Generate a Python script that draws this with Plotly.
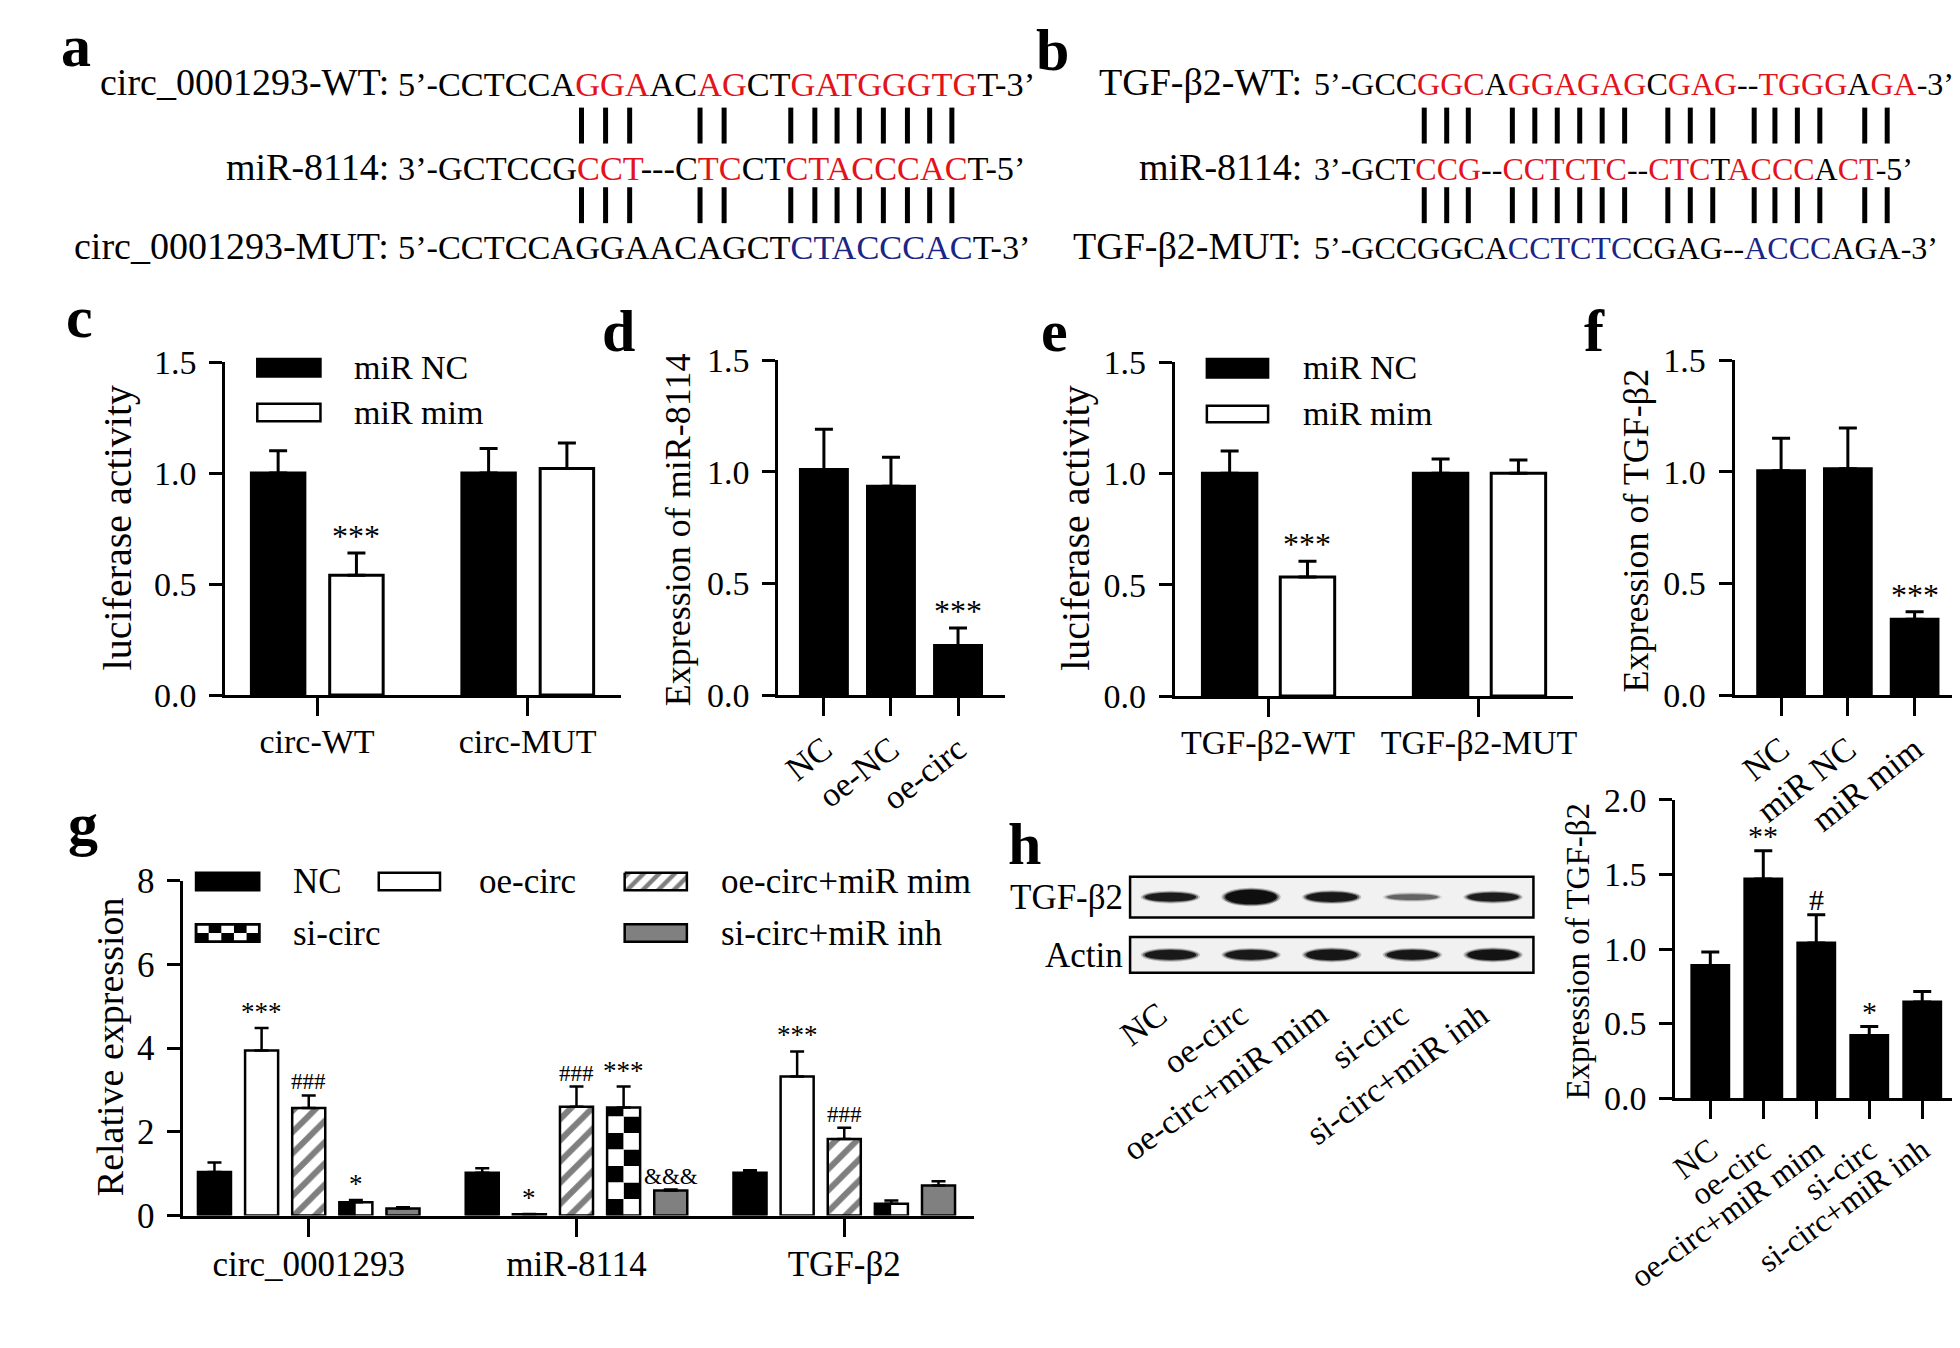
import plotly.graph_objects as go

W, H = 1960, 1348
FONT = "Liberation Serif, 'Times New Roman', Times, serif"
RED = "#E3121B"
BLUE = "#1B2585"
GRAY = "#808080"

# ---------------- data ----------------
# panel a : sequences (segment, colour key)
a_row_labels = ["circ_0001293-WT:", "miR-8114:", "circ_0001293-MUT:"]
a_wt = [("5’-CCTCCA", "k"), ("GGA", "r"), ("AC", "k"), ("AG", "r"), ("CT", "k"),
        ("GATGGGTG", "r"), ("T-3’", "k")]
a_mir = [("3’-GCTCCG", "k"), ("CCT", "r"), ("---C", "k"), ("TC", "r"), ("CT", "k"),
         ("CTACCCAC", "r"), ("T-5’", "k")]
a_mut = [("5’-CCTCCAGGAACAGCT", "k"), ("CTACCCAC", "b"), ("T-3’", "k")]

# panel b
b_row_labels = ["TGF-β2-WT:", "miR-8114:", "TGF-β2-MUT:"]
b_wt = [("5’-GCC", "k"), ("GGC", "r"), ("A", "k"), ("GGAGAG", "r"), ("C", "k"), ("GAG", "r"),
        ("--", "k"), ("TGGG", "r"), ("A", "k"), ("GA", "r"), ("-3’", "k")]
b_mir = [("3’-GCT", "k"), ("CCG", "r"), ("--", "k"), ("CCTCTC", "r"), ("--", "k"), ("CTC", "r"),
         ("T", "k"), ("ACCC", "r"), ("A", "k"), ("CT", "r"), ("-5’", "k")]
b_mut = [("5’-GCCGGCA", "k"), ("CCTCTC", "b"), ("CGAG--", "k"), ("ACCC", "b"), ("AGA-3’", "k")]

# panel c
c_cats = ["circ-WT", "circ-MUT"]
c_nc = [1.00, 1.00]
c_nc_err = [0.10, 0.11]
c_mim = [0.54, 1.02]
c_mim_err = [0.10, 0.115]
c_sig = ["***", ""]

# panel d
d_cats = ["NC", "oe-NC", "oe-circ"]
d_vals = [1.01, 0.935, 0.222]
d_err = [0.18, 0.13, 0.078]
d_sig = ["", "", "***"]

# panel e
e_cats = ["TGF-β2-WT", "TGF-β2-MUT"]
e_nc = [1.00, 1.00]
e_nc_err = [0.10, 0.065]
e_mim = [0.535, 1.00]
e_mim_err = [0.07, 0.06]
e_sig = ["***", ""]

# panel f
f_cats = ["NC", "miR NC", "miR mim"]
f_vals = [1.005, 1.013, 0.34]
f_err = [0.145, 0.183, 0.033]
f_sig = ["", "", "***"]

# panel g
g_cats = ["circ_0001293", "miR-8114", "TGF-β2"]
g_names = ["NC", "oe-circ", "oe-circ+miR mim", "si-circ", "si-circ+miR inh"]
g_nc = [1.04, 1.02, 1.02]
g_nc_err = [0.23, 0.11, 0.06]
g_oe = [3.94, 0.03, 3.32]
g_oe_err = [0.54, 0.01, 0.60]
g_oemim = [2.57, 2.60, 1.83]
g_oemim_err = [0.30, 0.48, 0.27]
g_si = [0.32, 2.58, 0.28]
g_si_err = [0.05, 0.50, 0.08]
g_siinh = [0.17, 0.60, 0.72]
g_siinh_err = [0.03, 0.02, 0.10]
g_sig_oe = ["***", "*", "***"]
g_sig_oemim = ["###", "###", "###"]
g_sig_si = ["*", "***", ""]
g_sig_siinh = ["", "&&&", ""]

# panel h (blot + quantification)
h_cats = ["NC", "oe-circ", "oe-circ+miR mim", "si-circ", "si-circ+miR inh"]
h_vals = [0.89, 1.47, 1.04, 0.42, 0.645]
h_err = [0.09, 0.19, 0.19, 0.06, 0.07]
h_sig = ["", "**", "#", "*", ""]
blot_tgf_thick = [9, 15, 10, 6, 9]
blot_tgf_dark = [0.88, 1.0, 0.9, 0.45, 0.86]
blot_actin_thick = [10, 10, 11, 10, 11]
blot_actin_dark = [0.9, 0.9, 0.92, 0.92, 0.95]

# ---------------- helpers ----------------
TW = {'A': 722, 'C': 667, 'G': 722, 'T': 611, '5': 500, '3': 500, '’': 333, '-': 333}
fig = go.Figure()
ann, shapes = [], []
layout = dict(width=W, height=H, margin=dict(l=0, r=0, t=0, b=0), paper_bgcolor="white",
              plot_bgcolor="rgba(0,0,0,0)", barmode="overlay", showlegend=False)
PX, PY = "x7", "y7"
layout["xaxis7"] = dict(domain=[0, 1], range=[0, W], visible=False, fixedrange=True, anchor="y7")
layout["yaxis7"] = dict(domain=[0, 1], range=[H, 0], visible=False, fixedrange=True, anchor="x7")


def T(x, y, text, size, xanchor="center", yanchor="middle", bold=False, angle=0):
    ann.append(dict(xref=PX, yref=PY, x=x, y=y, text=f"<b>{text}</b>" if bold else text,
                    showarrow=False, xanchor=xanchor, yanchor=yanchor, textangle=angle,
                    borderpad=0, font=dict(family=FONT, size=size, color="black")))


def TB(x, base, text, size, xanchor="center", bold=False):
    T(x, base - 0.34 * size, text, size, xanchor=xanchor, bold=bold)


def seq_html(segs):
    out = ""
    for s, c in segs:
        if c == "k":
            out += s
        else:
            out += f'<span style="color:{RED if c == "r" else BLUE}">{s}</span>'
    return out


def seq_panel(labels, rows, label_right, seq_left, label_fs, seq_fs, baselines, spans):
    for lab, segs, b in zip(labels, rows, baselines):
        TB(label_right, b, lab, label_fs, xanchor="right")
        TB(seq_left, b, seq_html(segs), seq_fs, xanchor="left")
    pos = seq_left
    for s, c in rows[0]:
        for ch in s:
            w = TW[ch] / 1000 * seq_fs
            if c == "r":
                for y0, y1 in spans:
                    shapes.append(dict(type="line", xref=PX, yref=PY, x0=pos + w / 2, x1=pos + w / 2,
                                       y0=y0, y1=y1, line=dict(color="black", width=5)))
            pos += w


def axis_pair(k, x0, x1, ytop, ybot, xrange, cats, yvals, ytext, yrange, xfs, yfs, xangle=0,
              xstand=0):
    sx = "" if k == 1 else str(k)
    common = dict(showline=True, linecolor="black", linewidth=3, ticks="outside", tickwidth=3,
                  tickcolor="black", showgrid=False, zeroline=False, fixedrange=True)
    layout["xaxis" + sx] = dict(common, domain=[x0 / W, x1 / W], range=xrange, anchor="y" + sx,
                                tickmode="array", tickvals=list(range(len(cats))), ticktext=cats,
                                ticklen=18, tickangle=xangle, ticklabelstandoff=xstand,
                                tickfont=dict(family=FONT, size=xfs, color="black"))
    layout["yaxis" + sx] = dict(common, domain=[1 - ybot / H, 1 - ytop / H], range=yrange,
                                anchor="x" + sx, tickmode="array", tickvals=yvals, ticktext=ytext,
                                ticklen=13, ticklabelstandoff=6,
                                tickfont=dict(family=FONT, size=yfs, color="black"))
    return "x" + sx, "y" + sx


def bars(xr, yr, vals, errs, off, width, fill, pattern=None, lw=3, cap=9, thick=3):
    marker = dict(color=fill, line=dict(color="black", width=lw))
    if pattern:
        marker["pattern"] = pattern
    fig.add_trace(go.Bar(x=list(range(len(vals))), y=vals, width=width, offset=off - width / 2,
                         marker=marker, xaxis=xr, yaxis=yr, hoverinfo="skip",
                         error_y=dict(type="data", symmetric=False, array=errs,
                                      arrayminus=[0] * len(vals), color="black",
                                      thickness=thick, width=cap)))


def sig(xr, yr, vals, errs, off, marks, size, shift=0):
    for i, (v, e, m) in enumerate(zip(vals, errs, marks)):
        if m:
            ann.append(dict(xref=xr, yref=yr, x=i + off, y=v + e, text=m, showarrow=False,
                            xanchor="center", yanchor="bottom", yshift=shift, borderpad=0,
                            font=dict(family=FONT, size=size, color="black")))


def ytitle(x, y, text, size):
    T(x, y, text, size, angle=-90)


def box(x0, y0, x1, y1, fill):
    shapes.append(dict(type="rect", xref=PX, yref=PY, x0=x0, x1=x1, y0=y0, y1=y1,
                       fillcolor=fill, line=dict(color="black", width=2.5)))


# ---------------- panels a, b ----------------
base_rows = [70, 157, 238]
spans = [(83, 120), (165, 202)]
seq_panel(a_row_labels, [a_wt, a_mir, a_mut], 341, 348, 38, 34.3, base_rows, spans)
seq_panel(b_row_labels, [b_wt, b_mir, b_mut], 1280, 1290, 38, 32, base_rows, spans)
TB(17, 40, "a", 60, bold=True)
TB(1022, 44, "b", 60, bold=True)

yt15 = [0, 0.5, 1.0, 1.5]
yt15t = ["0.0", "0.5", "1.0", "1.5"]

# ---------------- panel c ----------------
xr, yr = axis_pair(1, 171, 578, 345, 688, [-0.4365, 1.443], c_cats, yt15, yt15t, [0, 1.5], 34, 34,
                   xstand=-4)
bars(xr, yr, c_nc, c_nc_err, -0.185, 0.254, "black")
bars(xr, yr, c_mim, c_mim_err, 0.187, 0.254, "white")
sig(xr, yr, c_mim, c_mim_err, 0.187, c_sig, 32, shift=-2)
ytitle(60, 516, "luciferase activity", 40)
box(204, 342, 269, 360, "black")
box(204, 388, 269, 406, "white")
T(302, 351, "miR NC", 34, xanchor="left")
T(302, 397, "miR mim", 34, xanchor="left")
TB(21, 319, "c", 60, bold=True)

# ---------------- panel d ----------------
xr, yr = axis_pair(2, 740, 973, 343, 688, [-0.681, 2.696], d_cats, yt15, yt15t, [0, 1.5], 34, 34,
                   xangle=-38)
bars(xr, yr, d_vals, d_err, 0, 0.70, "black")
sig(xr, yr, d_vals, d_err, 0, d_sig, 32, shift=-2)
ytitle(637, 518, "Expression of miR-8114", 36)
TB(576, 333, "d", 60, bold=True)

# ---------------- panel e ----------------
xr, yr = axis_pair(3, 1148, 1558, 345, 689, [-0.442, 1.447], e_cats, yt15, yt15t, [0, 1.5], 34, 34,
                   xstand=-4)
bars(xr, yr, e_nc, e_nc_err, -0.182, 0.258, "black")
bars(xr, yr, e_mim, e_mim_err, 0.187, 0.258, "white")
sig(xr, yr, e_mim, e_mim_err, 0.187, e_sig, 32, shift=-2)
ytitle(1045, 516, "luciferase activity", 40)
box(1181, 342, 1244, 361, "black")
box(1181, 390, 1244, 407, "white")
T(1279, 351, "miR NC", 34, xanchor="left")
T(1279, 398, "miR mim", 34, xanchor="left")
TB(1024, 333, "e", 60, bold=True)

# ---------------- panel f ----------------
xr, yr = axis_pair(4, 1724, 1957, 343, 688, [-0.696, 2.696], f_cats, yt15, yt15t, [0, 1.5], 34, 34,
                   xangle=-38)
bars(xr, yr, f_vals, f_err, 0, 0.70, "black")
sig(xr, yr, f_vals, f_err, 0, f_sig, 32, shift=-2)
ytitle(1623, 518, "Expression of TGF-β2", 36)
TB(1580, 333, "f", 60, bold=True)

# ---------------- panel g ----------------
g_top, g_bot = 879, 1224
xr, yr = axis_pair(5, 128, 941, g_top, g_bot, [-0.468, 2.483], g_cats, [0, 2, 4, 6, 8],
                   ["0", "2", "4", "6", "8"], [0, 8], 35, 35, xstand=-3)
gw, gp = 0.1234, 0.176
offs = [(k - 2) * gp for k in range(5)]
bars(xr, yr, g_nc, g_nc_err, offs[0], gw, "black", lw=2.5, cap=7, thick=2.5)
bars(xr, yr, g_oe, g_oe_err, offs[1], gw, "white", lw=2.5, cap=7, thick=2.5)
bars(xr, yr, g_oemim, g_oemim_err, offs[2], gw, "white",
     pattern=dict(shape="/", fgcolor="black", bgcolor="white", size=15, solidity=0.4),
     lw=2.5, cap=7, thick=2.5)
# checkerboard fill for si-circ
cell = 17 / ((g_bot - g_top) / 8)
cb = {"black": dict(x=[], y=[], base=[], off=[]), "white": dict(x=[], y=[], base=[], off=[])}
for i, v in enumerate(g_si):
    k = 0
    while k * cell < v - 1e-9:
        h = min(cell, v - k * cell)
        for col in range(2):
            colr = "black" if (k + col) % 2 == 0 else "white"
            d = cb[colr]
            d["x"].append(i)
            d["y"].append(h)
            d["base"].append(k * cell)
            d["off"].append(offs[3] - gw / 2 + col * gw / 2)
        k += 1
for colr, d in cb.items():
    fig.add_trace(go.Bar(x=d["x"], y=d["y"], base=d["base"], offset=d["off"], width=gw / 2,
                         marker=dict(color=colr, line=dict(width=0)), xaxis=xr, yaxis=yr,
                         hoverinfo="skip"))
bars(xr, yr, g_si, g_si_err, offs[3], gw, "rgba(0,0,0,0)", lw=2.5, cap=7, thick=2.5)
bars(xr, yr, g_siinh, g_siinh_err, offs[4], gw, GRAY, lw=2.5, cap=7, thick=2.5)
sig(xr, yr, g_oe, g_oe_err, offs[1], g_sig_oe, 27)
sig(xr, yr, g_oemim, g_oemim_err, offs[2], g_sig_oemim, 23)
sig(xr, yr, g_si, g_si_err, offs[3], g_sig_si, 27)
sig(xr, yr, g_siinh, g_siinh_err, offs[4], g_sig_siinh, 23)
ytitle(52, 1050, "Relative expression", 38)
TB(25, 841, "g", 60, bold=True)
# legend g
rows_y = [880, 933]
cols_box = [(141, 206), (329, 392), (582, 646)]
cols_txt = [240, 431, 680]
leg_items = [(0, 0, "black"), (0, 1, "white"), (0, 2, "stripe"), (1, 0, "checker"), (1, 2, GRAY)]
for (r, c, kind), name in zip(leg_items, g_names):
    x0, x1 = cols_box[c]
    y0, y1 = rows_y[r] - 9, rows_y[r] + 9
    if kind == "stripe":
        fig.add_trace(go.Scatter(x=[x0, x1, x1, x0, x0], y=[y0, y0, y1, y1, y0], mode="lines",
                                 fill="toself", fillcolor="white",
                                 fillpattern=dict(shape="/", fgcolor="black", bgcolor="white",
                                                  size=11, solidity=0.4),
                                 line=dict(color="black", width=2.5), xaxis=PX, yaxis=PY,
                                 hoverinfo="skip"))
    elif kind == "checker":
        box(x0, y0, x1, y1, "white")
        nc = 5
        cw = (x1 - x0) / nc
        for rr in range(2):
            for cc in range(nc):
                if (rr + cc) % 2 == 1:
                    shapes.append(dict(type="rect", xref=PX, yref=PY, x0=x0 + cc * cw,
                                       x1=x0 + (cc + 1) * cw, y0=y0 + rr * 9, y1=y0 + (rr + 1) * 9,
                                       fillcolor="black", line=dict(width=0)))
        shapes.append(dict(type="rect", xref=PX, yref=PY, x0=x0, x1=x1, y0=y0, y1=y1,
                           line=dict(color="black", width=2.5)))
    else:
        box(x0, y0, x1, y1, kind)
    T(cols_txt[c], rows_y[r], name, 35, xanchor="left")

# ---------------- panel h : blot ----------------
bx0, bx1 = 1102, 1517
frames = [(875, 917, blot_tgf_thick, blot_tgf_dark), (937, 974, blot_actin_thick, blot_actin_dark)]
lane_w = (bx1 - bx0) / 5
for fy0, fy1, thick, dark in frames:
    shapes.append(dict(type="rect", xref=PX, yref=PY, x0=bx0, x1=bx1, y0=fy0, y1=fy1,
                       fillcolor="#f1f1f1", line=dict(color="black", width=2.5), layer="below"))
    yc = (fy0 + fy1) / 2
    for i, (t, dk) in enumerate(zip(thick, dark)):
        xc = bx0 + (i + 0.5) * lane_w
        for grow, alpha in [(4, 0.25), (2, 0.5), (0, 1.0)]:
            hw = 0.32 * lane_w + grow
            hh = t / 2 + grow / 2
            shapes.append(dict(type="circle", xref=PX, yref=PY, x0=xc - hw, x1=xc + hw,
                               y0=yc - hh, y1=yc + hh,
                               fillcolor=f"rgba(15,15,15,{dk * alpha:.3f})", line=dict(width=0)))
T(1096, 896, "TGF-β2", 35, xanchor="right")
T(1096, 956, "Actin", 35, xanchor="right")
for i, lab in enumerate(h_cats):
    xc = bx0 + (i + 0.5) * lane_w
    T(xc + 4, 996, lab, 34, xanchor="right", yanchor="top", angle=-36)
TB(993, 862, "h", 60, bold=True)

# ---------------- panel h : bar chart ----------------
xr, yr = axis_pair(6, 1663, 1953, 796, 1103, [-0.66, 4.66], h_cats, [0, 0.5, 1.0, 1.5, 2.0],
                   ["0.0", "0.5", "1.0", "1.5", "2.0"], [0, 2], 32, 34, xangle=-36)
bars(xr, yr, h_vals, h_err, 0, 0.696, "black")
sig(xr, yr, h_vals, h_err, 0, h_sig, 30, shift=-2)
ytitle(1563, 952, "Expression of TGF-β2", 33)

layout["annotations"] = ann
layout["shapes"] = shapes
fig.update_layout(**layout)
fig.write_html("out.html", config={"displayModeBar": False, "staticPlot": True})
